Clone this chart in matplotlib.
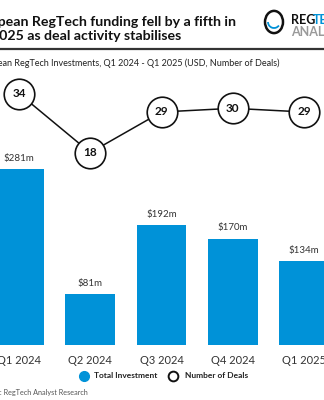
import matplotlib.pyplot as plt
from matplotlib.patches import Circle, Arc
from matplotlib.lines import Line2D

# 데이터
quarters = ["Q1 2024", "Q2 2024", "Q3 2024", "Q4 2024", "Q1 2025"]
investment = [281, 81, 192, 170, 134]   # USD m
deals = [34, 18, 29, 30, 29]
legend_labels = ["Total Investment", "Number of Deals"]

BLUE = "#0092D8"
W, H = 324, 400

plt.rcParams['font.family'] = ['Lato', 'DejaVu Sans']

fig = plt.figure(figsize=(W / 100, H / 100), dpi=100, facecolor='w')

def px(x, y):  # 픽셀 -> figure 좌표
    return x / W, 1 - y / H

# 제목
fig.text(*px(236, 22), "European RegTech funding fell by a fifth in", ha='right', va='center',
         fontsize=10.2, fontweight='bold', color='#111111')
fig.text(*px(181, 36), "Q1 2025 as deal activity stabilises", ha='right', va='center',
         fontsize=10.2, fontweight='bold', color='#111111')
fig.add_artist(Line2D([0, 1], [1 - 49 / H] * 2, color='#333333', lw=1.6))
fig.text(*px(279, 63), "European RegTech Investments, Q1 2024 - Q1 2025 (USD, Number of Deals)",
         ha='right', va='center', fontsize=6.5, color='#222222')

# 로고
lx, ly = px(274, 22)
fig.add_artist(Circle((lx, ly), 9 / W, transform=fig.transFigure, fill=False, lw=1.8,
                      ec='#111111'))
fig.add_artist(Arc((lx, ly), 12 / W, 12 / H, theta1=180, theta2=330, transform=fig.transFigure,
                   lw=1.3, color=BLUE))
fig.text(*px(291, 20), "REG", ha='left', va='center', fontsize=9, fontweight='bold',
         color='#111111')
fig.text(*px(313, 20), "TECH", ha='left', va='center', fontsize=9, fontweight='bold',
         color=BLUE)
fig.text(*px(291, 32), "ANALYST", ha='left', va='center', fontsize=9, fontweight='bold',
         color='#9a9a9a')

# 메인 축
left_x, unit = 19, 71.25
ax = fig.add_axes([0, (H - 345) / H, 1, 275 / H])
ax.set_xlim(-left_x / unit, (W - left_x) / unit)
ax.set_ylim(0, 275 / 0.626)
xs = range(len(quarters))
ax.bar(xs, investment, width=0.70, color=BLUE)
for x, v in zip(xs, investment):
    ax.text(x, v + 10, f"${v}m", ha='center', va='bottom', fontsize=7, color='#333333')
ax.set_xticks(list(xs))
ax.set_xticklabels(quarters, fontsize=8, color='#333333')
ax.tick_params(axis='x', length=0, pad=7)
ax.set_yticks([])
for s in ax.spines.values():
    s.set_visible(False)
ax.patch.set_alpha(0)

ax2 = ax.twinx()
ax2.set_ylim((219 - 345) / 3.69, (219 - 70) / 3.69)
ax2.plot(xs, deals, color='#111111', lw=1.1, marker='o', markersize=22,
         markerfacecolor='white', markeredgecolor='#111111', markeredgewidth=1.2)
for x, v in zip(xs, deals):
    ax2.text(x, v, str(v), ha='center', va='center', fontsize=8.5, fontweight='bold',
             color='#111111')
ax2.set_yticks([])
for s in ax2.spines.values():
    s.set_visible(False)

# 범례
leg_y = 1 - 376 / H
fig.add_artist(Line2D([84 / W], [leg_y], ls='none', marker='o', markersize=7,
                      markerfacecolor=BLUE, markeredgecolor=BLUE, transform=fig.transFigure))
fig.add_artist(Line2D([173 / W], [leg_y], ls='none', marker='o', markersize=7,
                      markerfacecolor='white', markeredgecolor='#111111', markeredgewidth=1.4,
                      transform=fig.transFigure))
fig.text(94 / W, leg_y, legend_labels[0], ha='left', va='center', fontsize=6,
         fontweight='bold', color='#222222')
fig.text(185 / W, leg_y, legend_labels[1], ha='left', va='center', fontsize=6,
         fontweight='bold', color='#222222')

fig.text(*px(88, 392), "Source: RegTech Analyst Research", ha='right', va='center',
         fontsize=5.2, color='#555555')

fig.savefig("out.png", dpi=100, facecolor='w')
